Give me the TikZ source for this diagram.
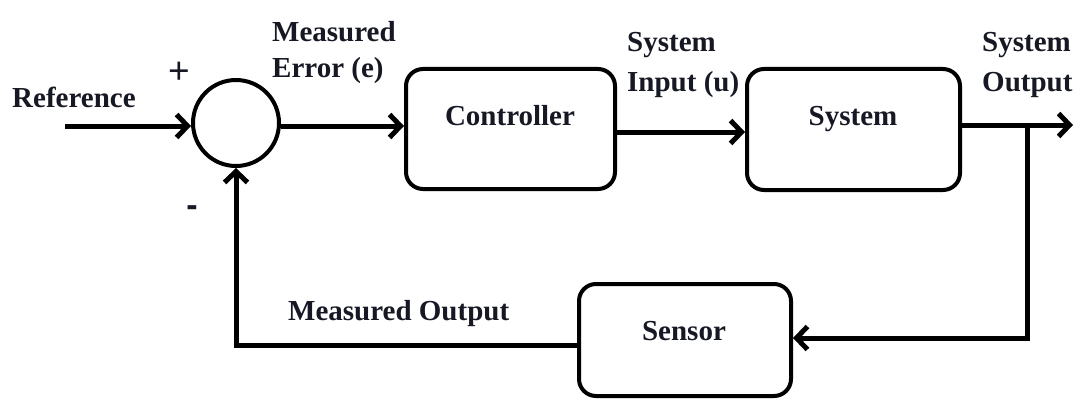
\documentclass[tikz,border=0pt]{standalone}
\usepackage{fontspec}
\setmainfont{Liberation Serif}
\newfontfamily\signfont{Liberation Sans}
\usetikzlibrary{arrows.meta}
\definecolor{ink}{RGB}{22,24,36}
\begin{document}
\begin{tikzpicture}[x=1pt,y=-1pt,
  box/.style={draw=black, line width=4pt, rounded corners=17pt, inner sep=0pt},
  conn/.style={draw=black, line width=5pt, -{Straight Barb[length=11pt,width=23pt]}},
  lbl/.style={font=\fontsize{29}{34}\selectfont\bfseries, text=ink, inner sep=0pt},
]
\useasboundingbox (0,0) rectangle (1075,401);

% blocks
\node[box, circle, sharp corners, minimum size=86pt] (sum) at (236,123) {};
\node[box, minimum width=209pt, minimum height=120pt] (ctrl) at (510.5,129) {};
\node[box, minimum width=213pt, minimum height=121pt] (sys) at (853.5,129.5) {};
\node[box, minimum width=212pt, minimum height=112pt] (sens) at (685,340) {};

% block captions
\node[lbl, anchor=base] (ctrltxt) at (510,125) {Controller};
\node[lbl, anchor=base] (systxt) at (853,125) {System};
\node[lbl, anchor=base] (senstxt) at (684,340) {Sensor};

% signal levels and bends
\coordinate (refin) at (65,126);
\coordinate (ey) at (0,126);
\coordinate (uy) at (0,132);
\coordinate (outend) at (1073,125);
\coordinate (br) at (1027,125);
\coordinate (sy) at (0,338);
\coordinate (fbl) at (236,345);

% forward path
\draw[conn] (refin) -- (refin -| sum.west);
\draw[conn] (sum.east |- ey) -- (ctrl.west |- ey);
\draw[conn] (ctrl.east |- uy) -- (sys.west |- uy);
\draw[conn] (sys.east |- outend) -- (outend);

% feedback path
\draw[conn] (br) -- (br |- sy) -- (sens.east |- sy);
\draw[conn] (sens.west |- fbl) -- (fbl) -- (sum.south);

% signal labels
\node[lbl, anchor=base west] (lref) at (12,107) {Reference};
\node[text=ink, inner sep=0pt, font=\fontsize{37}{37}\selectfont\signfont] (plus) at (179,73) {+};
\node[text=ink, inner sep=0pt, font=\fontsize{34}{34}\selectfont\signfont\bfseries] (minus) at (192,211) {-};
\node[lbl, anchor=base west] (lerr1) at (272,42) {Measured};
\node[lbl, anchor=base west] (lerr2) at (272,78) {Error (e)};
\node[lbl, anchor=base west] (lin1) at (627,52) {System};
\node[lbl, anchor=base west] (lin2) at (627,92) {Input (u)};
\node[lbl, anchor=base west] (lout1) at (982,52) {System};
\node[lbl, anchor=base west] (lout2) at (982,92) {Output};
\node[lbl, anchor=base west] (lmeas) at (288,320) {Measured Output};
\end{tikzpicture}
\end{document}
